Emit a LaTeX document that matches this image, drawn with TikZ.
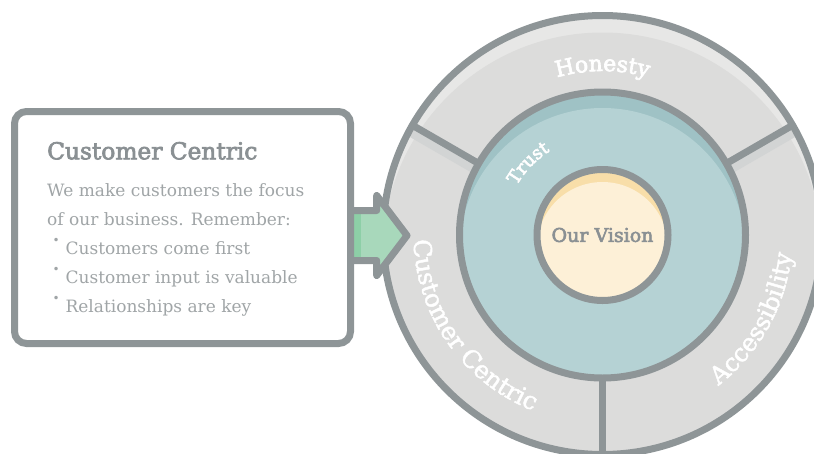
\documentclass[tikz,border=0pt]{standalone}
\usepackage{fontspec}
\setmainfont{DejaVu Serif}
\newfontfamily\semib{DejaVu Serif}[FakeBold=3]
\newfontfamily\medf{DejaVu Serif}[FakeBold=1.8]
\usetikzlibrary{decorations.text}
\definecolor{ringgrey}{HTML}{8E9597}
\definecolor{sectorfill}{HTML}{DCDCDB}
\definecolor{sectorlight}{HTML}{E7E7E6}
\definecolor{shadowgrey}{HTML}{D2D4D4}
\definecolor{tealdark}{HTML}{9FC2C5}
\definecolor{tealmain}{HTML}{B5D2D4}
\definecolor{creamdark}{HTML}{F8DEA9}
\definecolor{creammain}{HTML}{FDF0D7}
\definecolor{greenfill}{HTML}{A8D8BB}
\definecolor{greendark}{HTML}{8DCFA7}
\definecolor{headgrey}{HTML}{8A9093}
\definecolor{bodygrey}{HTML}{A0A5A7}
\newcommand\honfont{\semib\fontsize{22}{22}\selectfont}
\newcommand\ringfont{\medf\fontsize{24.5}{24.5}\selectfont}
\newcommand\trustfont{\semib\fontsize{18}{18}\selectfont}
\newcommand\bul{\raisebox{10pt}{\fontsize{12}{12}\selectfont •}\hspace{6pt}}
\begin{document}
\begin{tikzpicture}[x=1pt,y=1pt,
  outline/.style={draw=ringgrey, line width=7pt},
  shadowline/.style={draw=shadowgrey, line width=9pt},
  bodytext/.style={anchor=base west, inner sep=0pt, text=bodygrey, font=\fontsize{17}{17}\selectfont},
  headtext/.style={anchor=base west, inner sep=0pt, text=headgrey, font=\semib\fontsize{23.3}{23.3}\selectfont},
  ringlabel/.style={decorate, decoration={text along path, text color=white, text align=center, text={#1}}}]
\useasboundingbox (0,0) rectangle (814,-453);
\clip (0,0) rectangle (814,-453);
\coordinate (c) at (602.5,-235);
% outer disk with highlight
\begin{scope}
  \clip (c) circle[radius=219.5];
  \fill[sectorlight] (c) circle[radius=219.5];
  \fill[sectorfill] ([yshift=-17pt]c) circle[radius=219.5];
  \path[shadowline] ([yshift=-8pt]c) ++(150:140) -- ++(150:82);
  \path[shadowline] ([yshift=-8pt]c) ++(30:140) -- ++(30:82);
\end{scope}
% teal disk
\begin{scope}
  \clip (c) circle[radius=143];
  \fill[tealdark] (c) circle[radius=143];
  \fill[tealmain] ([yshift=-16pt]c) circle[radius=143];
\end{scope}
% inner disk
\begin{scope}
  \clip (c) circle[radius=65.5];
  \fill[creamdark] (c) circle[radius=65.5];
  \fill[creammain] ([yshift=-12.5pt]c) circle[radius=65.5];
\end{scope}
% outlines
\path[outline] (c) circle[radius=219.5];
\path[outline] (c) circle[radius=143];
\path[outline] (c) circle[radius=65.5];
\path[outline] (c) ++(150:143) -- ++(150:76.5);
\path[outline] (c) ++(30:143) -- ++(30:76.5);
\path[outline] (c) ++(270:143) -- ++(270:76.5);
% ring labels
\path[ringlabel={|\honfont|Honesty}] (c) ++(150:164) arc[start angle=150, end angle=30, radius=164];
\path[ringlabel={|\ringfont|Customer Centric}] (c) ++(152:189) arc[start angle=152, end angle=278, radius=189];
\path[ringlabel={|\ringfont|Accessibility}] (c) ++(270:190) arc[start angle=270, end angle=392, radius=190];
\path[ringlabel={|\trustfont|Trust}] (c) ++(180:99) arc[start angle=180, end angle=92, radius=99];
\node[font=\semib\fontsize{19}{19}\selectfont, text=headgrey, inner sep=0pt] (vision) at (c) {Our Vision};
% arrow
\fill[greenfill] (350.5,-210.5) -- (376.7,-210.5) -- (376.7,-195.5) -- (407,-235.5) -- (376.7,-275.5) -- (376.7,-260.5) -- (350.5,-260.5) -- cycle;
\fill[greendark] (350.5,-210.5) rectangle (361,-260.5);
\path[outline, line join=round] (350.5,-210.5) -- (376.7,-210.5) -- (376.7,-195.5) -- (407,-235.5) -- (376.7,-275.5) -- (376.7,-260.5) -- (350.5,-260.5);
% box
\path[outline, fill=white, rounded corners=12pt] (14.5,-111.5) rectangle (350.5,-343.5);
\node[headtext] (head) at (47,-159.3) {Customer Centric};
\node[bodytext] (l1) at (47,-196.7) {We make customers the focus};
\node[bodytext] (l2) at (47,-225.7) {of our business. Remember:};
\node[bodytext] (l3) at (52.3,-254.7) {\bul Customers come first};
\node[bodytext] (l4) at (52.3,-283.7) {\bul Customer input is valuable};
\node[bodytext] (l5) at (52.3,-312.7) {\bul Relationships are key};
\end{tikzpicture}
\end{document}
